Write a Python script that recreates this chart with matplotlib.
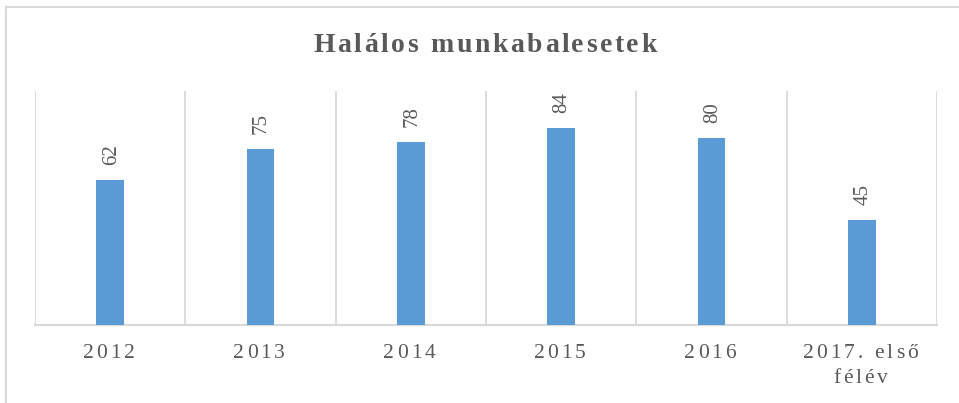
import numpy as np
import matplotlib
matplotlib.use("Agg")
import matplotlib.pyplot as plt
from matplotlib.lines import Line2D
from matplotlib.ft2font import FT2Font
from matplotlib import font_manager
from matplotlib.transforms import IdentityTransform

categories = ["2012", "2013", "2014", "2015", "2016", "2017. első\nfélév"]
values = [62, 75, 78, 84, 80, 45]
title = "Halálos munkabalesetek"

BAR_COLOR = "#5B9BD5"
TEXT_COLOR = "#595959"
GRID_COLOR = "#D9D9D9"
DPI = 100
W, H = 959, 403


def spaced_text(fig, cx, baseline, text, size, spacing, weight="normal"):
    # draw text with extra letter spacing, centred on cx (pixels, y from top)
    path = font_manager.findfont(font_manager.FontProperties(family="Liberation Serif", weight=weight))
    font = FT2Font(path)
    font.set_size(size, DPI)
    adv = []
    for ch in text:
        g = font.load_char(ord(ch))
        adv.append(g.linearHoriAdvance / 65536)
    total = sum(adv) + spacing * (len(text) - 1)
    x = cx - total / 2
    for ch, a in zip(text, adv):
        fig.text(x, H - baseline, ch, transform=IdentityTransform(), fontsize=size,
                 family="Liberation Serif", weight=weight, color=TEXT_COLOR,
                 ha="left", va="baseline")
        x += a + spacing


fig = plt.figure(figsize=(W / DPI, H / DPI), dpi=DPI)
ax = fig.add_axes([35 / W, 1 - 325 / H, (937 - 35) / W, (325 - 91) / H])

x = np.arange(len(values))
bars = ax.bar(x, values, width=0.183, color=BAR_COLOR, zorder=3)
ax.set_xlim(-0.5, len(values) - 0.5)
ax.set_ylim(0, 100)

for b, v in zip(bars, values):
    ax.annotate(str(v), (b.get_x() + b.get_width() / 2, v), xytext=(1, 15),
                textcoords="offset pixels", rotation=90, ha="center", va="bottom",
                fontsize=15, family="Liberation Serif", color=TEXT_COLOR)

ax.set_xticks(np.arange(-0.5, len(values), 1), minor=True)
ax.set_xticks([])
ax.set_yticks([])
ax.grid(which="minor", axis="x", color=GRID_COLOR, linewidth=1.3, zorder=0)
ax.tick_params(which="both", length=0)
for s in ["left", "right", "top"]:
    ax.spines[s].set_visible(False)
ax.spines["bottom"].set_color(GRID_COLOR)
ax.spines["bottom"].set_linewidth(1.6)

# category labels
for i, cat in enumerate(categories):
    cx = ax.transData.transform((i, 0))[0] - 1.5
    for j, line in enumerate(cat.split("\n")):
        spaced_text(fig, cx, 358 + 25 * j, line, 15.5, 3.0)

spaced_text(fig, 485, 52, title, 20, 2.6, weight="bold")

# chart border (cropped on right and bottom)
fig.add_artist(Line2D([5.5 / W, 5.5 / W], [0, 1 - 6.5 / H], transform=fig.transFigure,
                      color=GRID_COLOR, linewidth=1.5))
fig.add_artist(Line2D([5.5 / W, 1], [1 - 6.5 / H, 1 - 6.5 / H], transform=fig.transFigure,
                      color=GRID_COLOR, linewidth=1.5))

fig.savefig("out.png", dpi=DPI)
